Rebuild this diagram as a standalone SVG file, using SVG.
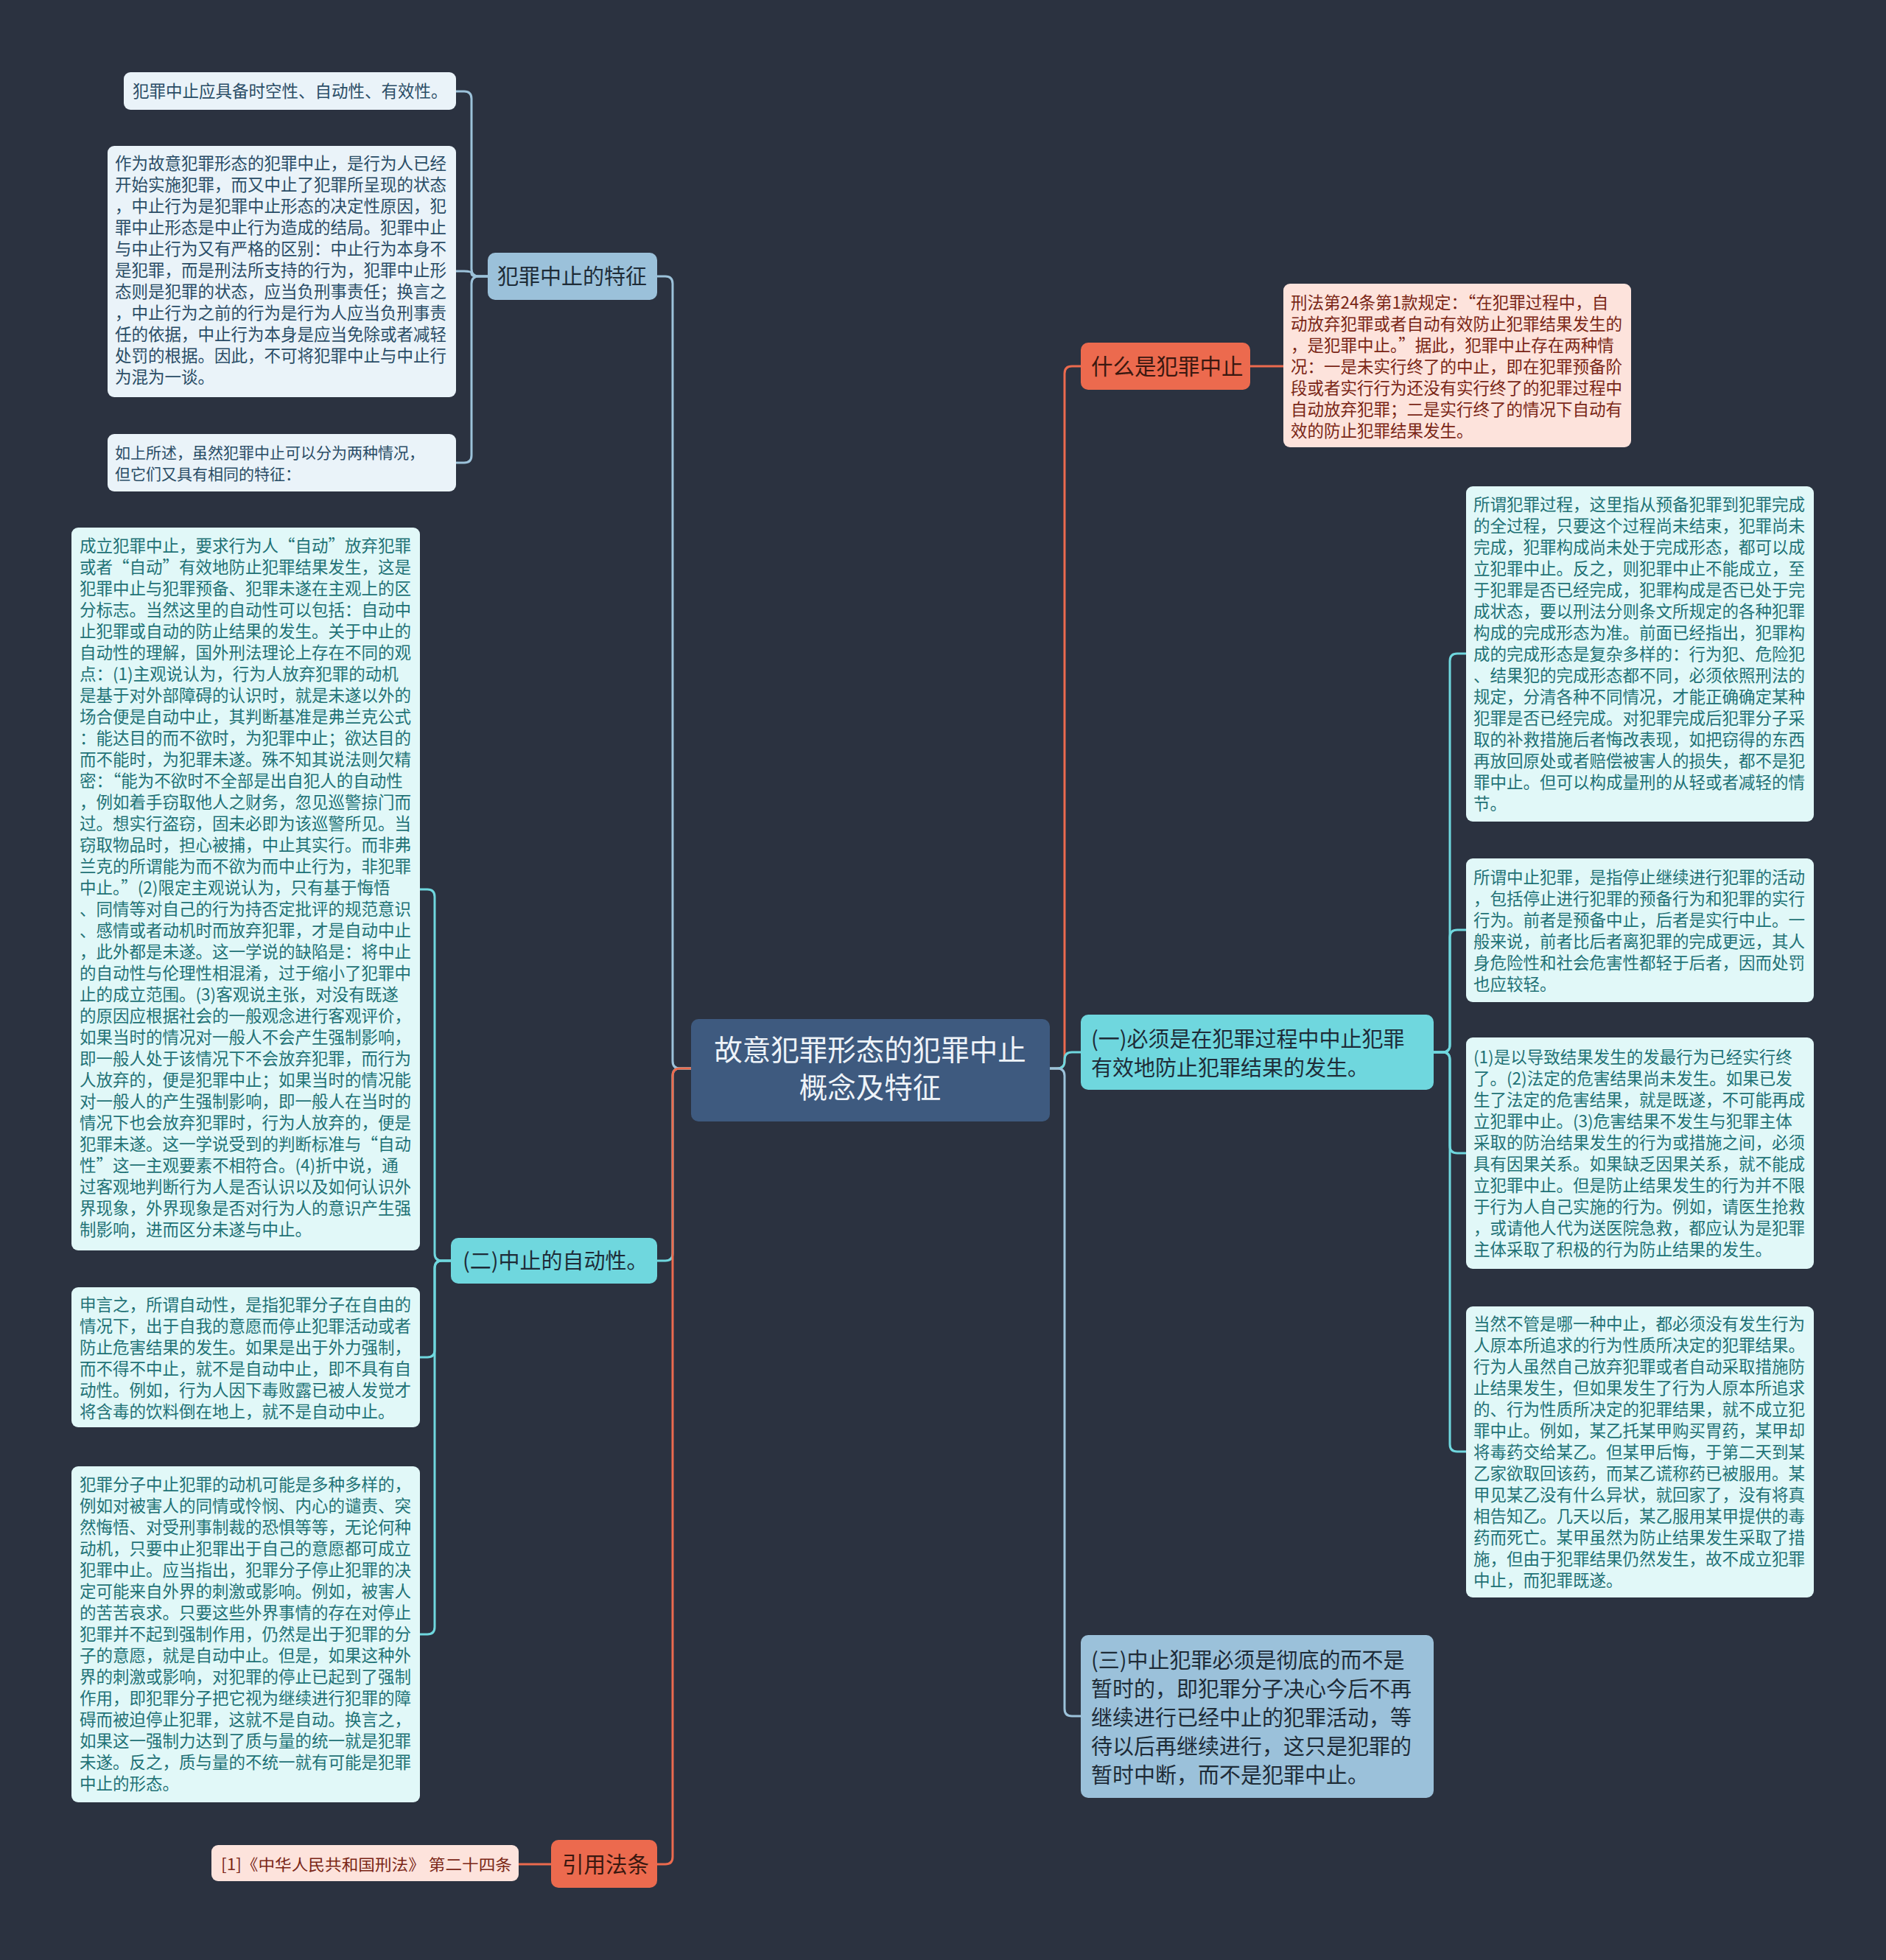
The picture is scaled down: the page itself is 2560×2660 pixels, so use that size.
<svg xmlns="http://www.w3.org/2000/svg" width="2560" height="2660" viewBox="0 0 2560 2660">
<style>
text{font-family:"Noto Sans CJK SC","Noto Sans",sans-serif;}
.bg{fill:#2b3240;}
.lb{fill:#eaf3f9;}
.lbt{fill:#2a4d66;font-size:22.5px;}
.lc{fill:#e1f8f8;}
.lct{fill:#1f7276;font-size:22.5px;}
.pk{fill:#fde3dc;}
.pkt{fill:#7a2616;font-size:22.5px;}
.blue{fill:#9bc1da;}
.cyan{fill:#6fd7de;}
.orng{fill:#ec6a4e;}
.mt{fill:#1e2c38;font-size:29px;}
.ot{fill:#3a1810;font-size:29.5px;}
.ctr{fill:#3e5a7f;}
.ctt{fill:#eef3f8;font-size:38.5px;}
.cb{fill:none;stroke:#9cc2da;stroke-width:3;}
.cc{fill:none;stroke:#6fd7de;stroke-width:3;}
.co{fill:none;stroke:#ec6a4e;stroke-width:3;}
</style>
<rect class="bg" x="0" y="0" width="2560" height="2660"/>
<g id="connectors">
<path class="cb" d="M938 1450 H923 Q913 1450 913 1440 V385 Q913 375 903 375 H892"/>
<path class="cc" d="M938 1450 H923 Q913 1450 913 1460 V1701 Q913 1711 903 1711 H892"/>
<path class="co" d="M938 1450 H923 Q913 1450 913 1460 V2520 Q913 2530 903 2530 H892"/>
<path class="co" d="M1425 1450 H1435 Q1445 1450 1445 1440 V507 Q1445 497 1455 497 H1467"/>
<path class="cc" d="M1425 1450 H1435 Q1445 1450 1445 1440 V1438 Q1445 1428 1455 1428 H1467"/>
<path class="cb" d="M1425 1450 H1435 Q1445 1450 1445 1460 V2319 Q1445 2329 1455 2329 H1467"/>
<path class="cb" d="M662 375 H650 Q640 375 640 365 V134 Q640 124 630 124 H619"/>
<path class="cb" d="M662 375 H650 Q640 375 640 372 V371 Q640 368 630 368 H619"/>
<path class="cb" d="M662 375 H650 Q640 375 640 385 V618 Q640 628 630 628 H619"/>
<path class="cc" d="M612 1711 H600 Q590 1711 590 1701 V1217 Q590 1207 580 1207 H570"/>
<path class="cc" d="M612 1711 H600 Q590 1711 590 1721 V1832 Q590 1842 580 1842 H570"/>
<path class="cc" d="M612 1711 H600 Q590 1711 590 1721 V2208 Q590 2218 580 2218 H570"/>
<path class="cc" d="M1946 1428 H1958 Q1968 1428 1968 1418 V897 Q1968 887 1978 887 H1990"/>
<path class="cc" d="M1946 1428 H1958 Q1968 1428 1968 1418 V1272 Q1968 1262 1978 1262 H1990"/>
<path class="cc" d="M1946 1428 H1958 Q1968 1428 1968 1438 V1555 Q1968 1565 1978 1565 H1990"/>
<path class="cc" d="M1946 1428 H1958 Q1968 1428 1968 1438 V1960 Q1968 1970 1978 1970 H1990"/>
<path class="co" d="M1697 497 H1742"/>
<path class="co" d="M748 2530 H704"/>
</g>
<g id="center">
<rect class="ctr" x="938" y="1383" width="487" height="139" rx="10"/>
<text class="ctt" text-anchor="middle"><tspan x="1181" y="1439">故意犯罪形态的犯罪中止</tspan><tspan x="1181" y="1490">概念及特征</tspan></text>
</g>
<g id="n-tezheng">
<rect class="blue" x="662" y="343" width="230" height="64" rx="10"/>
<text class="mt" x="675" y="386">犯罪中止的特征</text>
</g>
<g id="n-shikong">
<rect class="lb" x="168" y="98" width="451" height="51" rx="9"/>
<text class="lbt" x="180" y="132">犯罪中止应具备时空性、自动性、有效性。</text>
</g>
<g id="n-zuowei">
<rect class="lb" x="146" y="198" width="473" height="341" rx="9"/>
<text class="lbt"><tspan x="156" y="230">作为故意犯罪形态的犯罪中止，是行为人已经</tspan><tspan x="156" dy="29">开始实施犯罪，而又中止了犯罪所呈现的状态</tspan><tspan x="156" dy="29">，中止行为是犯罪中止形态的决定性原因，犯</tspan><tspan x="156" dy="29">罪中止形态是中止行为造成的结局。犯罪中止</tspan><tspan x="156" dy="29">与中止行为又有严格的区别：中止行为本身不</tspan><tspan x="156" dy="29">是犯罪，而是刑法所支持的行为，犯罪中止形</tspan><tspan x="156" dy="29">态则是犯罪的状态，应当负刑事责任；换言之</tspan><tspan x="156" dy="29">，中止行为之前的行为是行为人应当负刑事责</tspan><tspan x="156" dy="29">任的依据，中止行为本身是应当免除或者减轻</tspan><tspan x="156" dy="29">处罚的根据。因此，不可将犯罪中止与中止行</tspan><tspan x="156" dy="29">为混为一谈。</tspan></text>
</g>
<g id="n-rushang">
<rect class="lb" x="146" y="589" width="473" height="78" rx="9"/>
<text class="lbt" style="font-size:21px"><tspan x="156" y="622">如上所述，虽然犯罪中止可以分为两种情况，</tspan><tspan x="156" dy="29">但它们又具有相同的特征：</tspan></text>
</g>
<g id="n-zidongxing">
<rect class="cyan" x="612" y="1680" width="280" height="62" rx="10"/>
<text class="mt" x="628" y="1722">(二)中止的自动性。</text>
</g>
<g id="n-chengli">
<rect class="lc" x="97" y="716" width="473" height="981" rx="9"/>
<text class="lct"><tspan x="108" y="749">成立犯罪中止，要求行为人“自动”放弃犯罪</tspan><tspan x="108" dy="29">或者“自动”有效地防止犯罪结果发生，这是</tspan><tspan x="108" dy="29">犯罪中止与犯罪预备、犯罪未遂在主观上的区</tspan><tspan x="108" dy="29">分标志。当然这里的自动性可以包括：自动中</tspan><tspan x="108" dy="29">止犯罪或自动的防止结果的发生。关于中止的</tspan><tspan x="108" dy="29">自动性的理解，国外刑法理论上存在不同的观</tspan><tspan x="108" dy="29">点：(1)主观说认为，行为人放弃犯罪的动机</tspan><tspan x="108" dy="29">是基于对外部障碍的认识时，就是未遂以外的</tspan><tspan x="108" dy="29">场合便是自动中止，其判断基准是弗兰克公式</tspan><tspan x="108" dy="29">：能达目的而不欲时，为犯罪中止；欲达目的</tspan><tspan x="108" dy="29">而不能时，为犯罪未遂。殊不知其说法则欠精</tspan><tspan x="108" dy="29">密：“能为不欲时不全部是出自犯人的自动性</tspan><tspan x="108" dy="29">，例如着手窃取他人之财务，忽见巡警掠门而</tspan><tspan x="108" dy="29">过。想实行盗窃，固未必即为该巡警所见。当</tspan><tspan x="108" dy="29">窃取物品时，担心被捕，中止其实行。而非弗</tspan><tspan x="108" dy="29">兰克的所谓能为而不欲为而中止行为，非犯罪</tspan><tspan x="108" dy="29">中止。”(2)限定主观说认为，只有基于悔悟</tspan><tspan x="108" dy="29">、同情等对自己的行为持否定批评的规范意识</tspan><tspan x="108" dy="29">、感情或者动机时而放弃犯罪，才是自动中止</tspan><tspan x="108" dy="29">，此外都是未遂。这一学说的缺陷是：将中止</tspan><tspan x="108" dy="29">的自动性与伦理性相混淆，过于缩小了犯罪中</tspan><tspan x="108" dy="29">止的成立范围。(3)客观说主张，对没有既遂</tspan><tspan x="108" dy="29">的原因应根据社会的一般观念进行客观评价，</tspan><tspan x="108" dy="29">如果当时的情况对一般人不会产生强制影响，</tspan><tspan x="108" dy="29">即一般人处于该情况下不会放弃犯罪，而行为</tspan><tspan x="108" dy="29">人放弃的，便是犯罪中止；如果当时的情况能</tspan><tspan x="108" dy="29">对一般人的产生强制影响，即一般人在当时的</tspan><tspan x="108" dy="29">情况下也会放弃犯罪时，行为人放弃的，便是</tspan><tspan x="108" dy="29">犯罪未遂。这一学说受到的判断标准与“自动</tspan><tspan x="108" dy="29">性”这一主观要素不相符合。(4)折中说，通</tspan><tspan x="108" dy="29">过客观地判断行为人是否认识以及如何认识外</tspan><tspan x="108" dy="29">界现象，外界现象是否对行为人的意识产生强</tspan><tspan x="108" dy="29">制影响，进而区分未遂与中止。</tspan></text>
</g>
<g id="n-shenyan">
<rect class="lc" x="97" y="1747" width="473" height="190" rx="9"/>
<text class="lct"><tspan x="108" y="1779">申言之，所谓自动性，是指犯罪分子在自由的</tspan><tspan x="108" dy="29">情况下，出于自我的意愿而停止犯罪活动或者</tspan><tspan x="108" dy="29">防止危害结果的发生。如果是出于外力强制，</tspan><tspan x="108" dy="29">而不得不中止，就不是自动中止，即不具有自</tspan><tspan x="108" dy="29">动性。例如，行为人因下毒败露已被人发觉才</tspan><tspan x="108" dy="29">将含毒的饮料倒在地上，就不是自动中止。</tspan></text>
</g>
<g id="n-dongji">
<rect class="lc" x="97" y="1990" width="473" height="456" rx="9"/>
<text class="lct"><tspan x="108" y="2023">犯罪分子中止犯罪的动机可能是多种多样的，</tspan><tspan x="108" dy="29">例如对被害人的同情或怜悯、内心的谴责、突</tspan><tspan x="108" dy="29">然悔悟、对受刑事制裁的恐惧等等，无论何种</tspan><tspan x="108" dy="29">动机，只要中止犯罪出于自己的意愿都可成立</tspan><tspan x="108" dy="29">犯罪中止。应当指出，犯罪分子停止犯罪的决</tspan><tspan x="108" dy="29">定可能来自外界的刺激或影响。例如，被害人</tspan><tspan x="108" dy="29">的苦苦哀求。只要这些外界事情的存在对停止</tspan><tspan x="108" dy="29">犯罪并不起到强制作用，仍然是出于犯罪的分</tspan><tspan x="108" dy="29">子的意愿，就是自动中止。但是，如果这种外</tspan><tspan x="108" dy="29">界的刺激或影响，对犯罪的停止已起到了强制</tspan><tspan x="108" dy="29">作用，即犯罪分子把它视为继续进行犯罪的障</tspan><tspan x="108" dy="29">碍而被迫停止犯罪，这就不是自动。换言之，</tspan><tspan x="108" dy="29">如果这一强制力达到了质与量的统一就是犯罪</tspan><tspan x="108" dy="29">未遂。反之，质与量的不统一就有可能是犯罪</tspan><tspan x="108" dy="29">中止的形态。</tspan></text>
</g>
<g id="n-yinyong">
<rect class="orng" x="748" y="2497" width="144" height="65" rx="10"/>
<text class="ot" x="763" y="2541">引用法条</text>
</g>
<g id="n-xingfa24">
<rect class="pk" x="287" y="2504" width="417" height="49" rx="9"/>
<text class="pkt" x="300" y="2538" style="font-size:21px" textLength="395" lengthAdjust="spacingAndGlyphs">[1]《中华人民共和国刑法》 第二十四条</text>
</g>
<g id="n-shenme">
<rect class="orng" x="1467" y="465" width="230" height="64" rx="10"/>
<text class="ot" x="1481" y="508">什么是犯罪中止</text>
</g>
<g id="n-xingfa">
<rect class="pk" x="1742" y="385" width="472" height="222" rx="9"/>
<text class="pkt"><tspan x="1752" y="419">刑法第24条第1款规定：“在犯罪过程中，自</tspan><tspan x="1752" dy="29">动放弃犯罪或者自动有效防止犯罪结果发生的</tspan><tspan x="1752" dy="29">，是犯罪中止。”据此，犯罪中止存在两种情</tspan><tspan x="1752" dy="29">况：一是未实行终了的中止，即在犯罪预备阶</tspan><tspan x="1752" dy="29">段或者实行行为还没有实行终了的犯罪过程中</tspan><tspan x="1752" dy="29">自动放弃犯罪；二是实行终了的情况下自动有</tspan><tspan x="1752" dy="29">效的防止犯罪结果发生。</tspan></text>
</g>
<g id="n-yi">
<rect class="cyan" x="1467" y="1377" width="479" height="102" rx="10"/>
<text class="mt"><tspan x="1481" y="1421">(一)必须是在犯罪过程中中止犯罪</tspan><tspan x="1481" dy="39">有效地防止犯罪结果的发生。</tspan></text>
</g>
<g id="n-guocheng">
<rect class="lc" x="1990" y="660" width="472" height="455" rx="9"/>
<text class="lct"><tspan x="2000" y="693">所谓犯罪过程，这里指从预备犯罪到犯罪完成</tspan><tspan x="2000" dy="29">的全过程，只要这个过程尚未结束，犯罪尚未</tspan><tspan x="2000" dy="29">完成，犯罪构成尚未处于完成形态，都可以成</tspan><tspan x="2000" dy="29">立犯罪中止。反之，则犯罪中止不能成立，至</tspan><tspan x="2000" dy="29">于犯罪是否已经完成，犯罪构成是否已处于完</tspan><tspan x="2000" dy="29">成状态，要以刑法分则条文所规定的各种犯罪</tspan><tspan x="2000" dy="29">构成的完成形态为准。前面已经指出，犯罪构</tspan><tspan x="2000" dy="29">成的完成形态是复杂多样的：行为犯、危险犯</tspan><tspan x="2000" dy="29">、结果犯的完成形态都不同，必须依照刑法的</tspan><tspan x="2000" dy="29">规定，分清各种不同情况，才能正确确定某种</tspan><tspan x="2000" dy="29">犯罪是否已经完成。对犯罪完成后犯罪分子采</tspan><tspan x="2000" dy="29">取的补救措施后者悔改表现，如把窃得的东西</tspan><tspan x="2000" dy="29">再放回原处或者赔偿被害人的损失，都不是犯</tspan><tspan x="2000" dy="29">罪中止。但可以构成量刑的从轻或者减轻的情</tspan><tspan x="2000" dy="29">节。</tspan></text>
</g>
<g id="n-zhongzhi">
<rect class="lc" x="1990" y="1165" width="472" height="195" rx="9"/>
<text class="lct"><tspan x="2000" y="1199">所谓中止犯罪，是指停止继续进行犯罪的活动</tspan><tspan x="2000" dy="29">，包括停止进行犯罪的预备行为和犯罪的实行</tspan><tspan x="2000" dy="29">行为。前者是预备中止，后者是实行中止。一</tspan><tspan x="2000" dy="29">般来说，前者比后者离犯罪的完成更远，其人</tspan><tspan x="2000" dy="29">身危险性和社会危害性都轻于后者，因而处罚</tspan><tspan x="2000" dy="29">也应较轻。</tspan></text>
</g>
<g id="n-shiyi">
<rect class="lc" x="1990" y="1408" width="472" height="314" rx="9"/>
<text class="lct"><tspan x="2000" y="1443">(1)是以导致结果发生的发最行为已经实行终</tspan><tspan x="2000" dy="29">了。(2)法定的危害结果尚未发生。如果已发</tspan><tspan x="2000" dy="29">生了法定的危害结果，就是既遂，不可能再成</tspan><tspan x="2000" dy="29">立犯罪中止。(3)危害结果不发生与犯罪主体</tspan><tspan x="2000" dy="29">采取的防治结果发生的行为或措施之间，必须</tspan><tspan x="2000" dy="29">具有因果关系。如果缺乏因果关系，就不能成</tspan><tspan x="2000" dy="29">立犯罪中止。但是防止结果发生的行为并不限</tspan><tspan x="2000" dy="29">于行为人自己实施的行为。例如，请医生抢救</tspan><tspan x="2000" dy="29">，或请他人代为送医院急救，都应认为是犯罪</tspan><tspan x="2000" dy="29">主体采取了积极的行为防止结果的发生。</tspan></text>
</g>
<g id="n-dangran">
<rect class="lc" x="1990" y="1773" width="472" height="395" rx="9"/>
<text class="lct"><tspan x="2000" y="1805">当然不管是哪一种中止，都必须没有发生行为</tspan><tspan x="2000" dy="29">人原本所追求的行为性质所决定的犯罪结果。</tspan><tspan x="2000" dy="29">行为人虽然自己放弃犯罪或者自动采取措施防</tspan><tspan x="2000" dy="29">止结果发生，但如果发生了行为人原本所追求</tspan><tspan x="2000" dy="29">的、行为性质所决定的犯罪结果，就不成立犯</tspan><tspan x="2000" dy="29">罪中止。例如，某乙托某甲购买胃药，某甲却</tspan><tspan x="2000" dy="29">将毒药交给某乙。但某甲后悔，于第二天到某</tspan><tspan x="2000" dy="29">乙家欲取回该药，而某乙谎称药已被服用。某</tspan><tspan x="2000" dy="29">甲见某乙没有什么异状，就回家了，没有将真</tspan><tspan x="2000" dy="29">相告知乙。几天以后，某乙服用某甲提供的毒</tspan><tspan x="2000" dy="29">药而死亡。某甲虽然为防止结果发生采取了措</tspan><tspan x="2000" dy="29">施，但由于犯罪结果仍然发生，故不成立犯罪</tspan><tspan x="2000" dy="29">中止，而犯罪既遂。</tspan></text>
</g>
<g id="n-san">
<rect class="blue" x="1467" y="2219" width="479" height="221" rx="10"/>
<text class="mt"><tspan x="1481" y="2264">(三)中止犯罪必须是彻底的而不是</tspan><tspan x="1481" dy="39">暂时的，即犯罪分子决心今后不再</tspan><tspan x="1481" dy="39">继续进行已经中止的犯罪活动，等</tspan><tspan x="1481" dy="39">待以后再继续进行，这只是犯罪的</tspan><tspan x="1481" dy="39">暂时中断，而不是犯罪中止。</tspan></text>
</g>
</svg>
